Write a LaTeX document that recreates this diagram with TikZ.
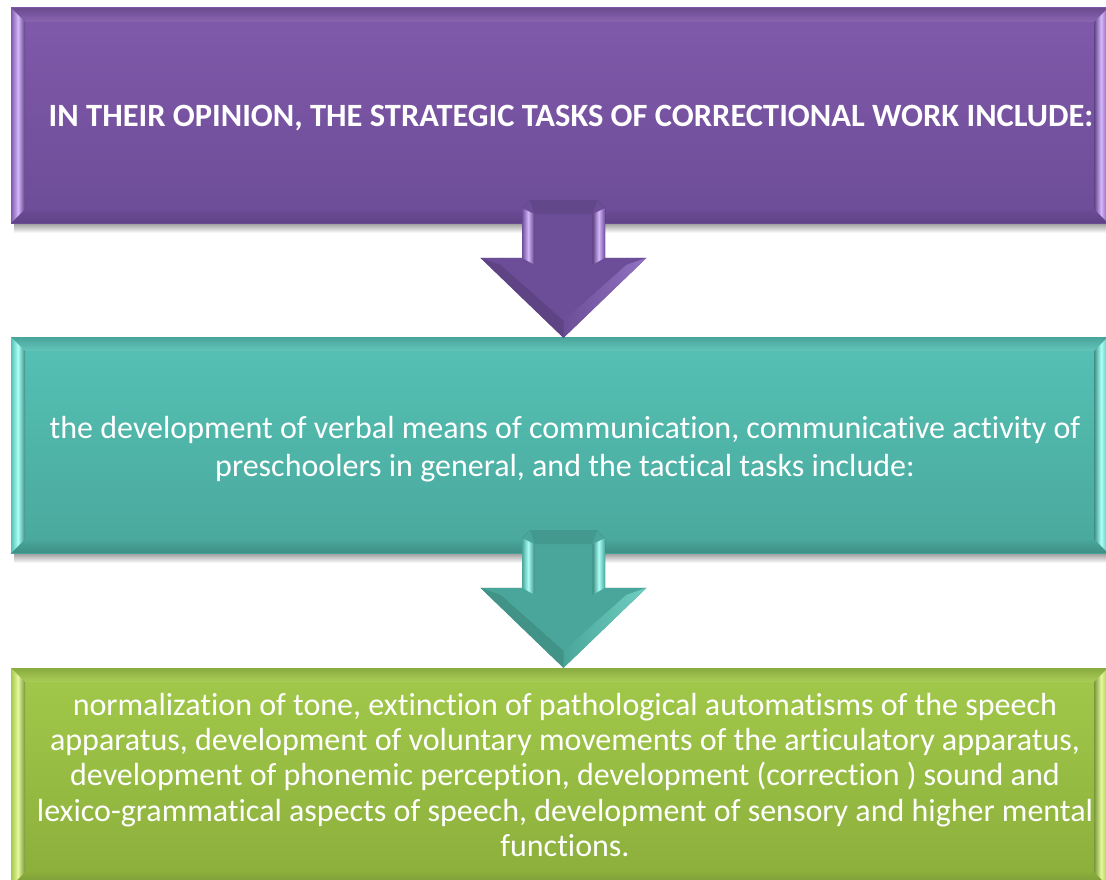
\documentclass[tikz,border=0pt]{standalone}
\usepackage{fontspec}
\setmainfont{Carlito}[Ligatures=NoCommon]
\usetikzlibrary{calc,backgrounds}

% panel colours: face top / face bottom / light bevel / dark bevel
\definecolor{puTop}{HTML}{8059AB}
\definecolor{puBot}{HTML}{6D4D97}
\definecolor{puLight}{HTML}{D4B6FC}
\definecolor{puDark}{HTML}{5E4285}
\definecolor{teTop}{HTML}{55C1B5}
\definecolor{teBot}{HTML}{4AA89C}
\definecolor{teLight}{HTML}{AAFFF5}
\definecolor{teDark}{HTML}{3E8F85}
\definecolor{grTop}{HTML}{A2C94A}
\definecolor{grBot}{HTML}{8BAE3B}
\definecolor{grLight}{HTML}{E4F79C}
\definecolor{grDark}{HTML}{779739}
% arrow colours
\definecolor{puArrow}{HTML}{6C4D97}
\definecolor{puArrowLit}{HTML}{9273C4}
\definecolor{teArrow}{HTML}{4AA69A}
\definecolor{teArrowLit}{HTML}{6FCFC2}

\tikzset{
  boxtext/.style={text=white, align=center, inner sep=0pt},
}

% bevelled panel: x1, y1, x2, y2, colour prefix
\newcommand\panel[5]{%
  \shade[top color=black!40, bottom color=white] (#1+3,#4) rectangle (#3,#4+10);
  \shade[top color=#5Top, bottom color=#5Bot] (#1,#2) rectangle (#3,#4);
  % top bevel
  \shade[top color=#5Top!85!black, bottom color=#5Top!92!white]
    (#1,#2) -- (#3,#2) -- (#3-14,#2+14) -- (#1+14,#2+14) -- cycle;
  % bottom bevel
  \shade[top color=#5Bot, bottom color=#5Dark]
    (#1,#4) -- (#3,#4) -- (#3-14,#4-14) -- (#1+14,#4-14) -- cycle;
  % left bevel
  \shade[left color=#5Top, right color=#5Dark, middle color=#5Light]
    (#1,#2) -- (#1+14,#2+14) -- (#1+14,#4-14) -- (#1,#4) -- cycle;
  % right bevel
  \shade[left color=#5Dark, right color=#5Top, middle color=#5Light]
    (#3,#2) -- (#3-14,#2+14) -- (#3-14,#4-14) -- (#3,#4) -- cycle;
}

% bevelled block arrow from shaft top #1 to tip #2, colour prefix #3
\newcommand\blockarrow[3]{%
  % soft shadow
  \foreach \s/\o in {6/0.08,4/0.10,2/0.12}{
    \fill[black, opacity=\o, shift={(\s*0.6,\s)}]
      ($(#1)+(-33.5,0)$) -- ($(#1)+(33.5,0)$) -- ($(#1)+(41.5,8)$) --
      ($(#2)+(41.5,-80)$) -- ($(#2)+(83,-80)$) -- (#2) --
      ($(#2)+(-83,-80)$) -- ($(#2)+(-41.5,-80)$) -- ($(#1)+(-41.5,8)$) -- cycle;
  }
  % body
  \fill[#3Arrow]
    ($(#1)+(-33.5,0)$) -- ($(#1)+(33.5,0)$) -- ($(#1)+(41.5,8)$) --
    ($(#2)+(41.5,-80)$) -- ($(#2)+(83,-80)$) -- (#2) --
    ($(#2)+(-83,-80)$) -- ($(#2)+(-41.5,-80)$) -- ($(#1)+(-41.5,8)$) -- cycle;
  % lit bevel along the right slope of the head
  \shade[left color=#3Arrow, right color=#3ArrowLit]
    ($(#2)+(83,-80)$) -- (#2) -- ($(#2)+(0,-17)$) -- ($(#2)+(63,-73)$) -- cycle;
  % darker bevel along the left slope of the head
  \fill[#3Arrow!88!black]
    ($(#2)+(-83,-80)$) -- (#2) -- ($(#2)+(0,-17)$) -- ($(#2)+(-63,-73)$) -- cycle;
  % lit bevels of the shaft
  \shade[left color=#3Arrow, right color=#3Arrow!85!black, middle color=#3Light]
    ($(#1)+(-41.5,8)$) -- ($(#1)+(-29,14)$) -- ($(#2)+(-29,-73)$) -- ($(#2)+(-41.5,-80)$) -- cycle;
  \shade[left color=#3Arrow!85!black, right color=#3Arrow, middle color=#3Light]
    ($(#1)+(41.5,8)$) -- ($(#1)+(29,14)$) -- ($(#2)+(29,-73)$) -- ($(#2)+(41.5,-80)$) -- cycle;
  \fill[#3Arrow!92!black]
    ($(#1)+(-33.5,0)$) -- ($(#1)+(33.5,0)$) -- ($(#1)+(29,14)$) -- ($(#1)+(-29,14)$) -- cycle;
}

\begin{document}
\begin{tikzpicture}[x=1pt, y=-1pt]
  \clip (0,0) rectangle (1106,880);

  % text boxes
  \node[boxtext, minimum width=1097pt, minimum height=215pt,
        font=\bfseries\fontsize{32.5}{38}\selectfont] (b1) at (571,118.5)
    {IN THEIR OPINION, THE STRATEGIC TASKS OF CORRECTIONAL WORK INCLUDE:};
  \node[boxtext, minimum width=1097pt, minimum height=216pt,
        font=\fontsize{32}{38}\selectfont] (b2) at (565,449)
    {the development of verbal means of communication, communicative activity of\\
     preschoolers in general, and the tactical tasks include:};
  \node[boxtext, minimum width=1097pt, minimum height=216pt,
        font=\fontsize{32}{35.2}\selectfont] (b3) at (565,775)
    {normalization of tone, extinction of pathological automatisms of the speech\\
     apparatus, development of voluntary movements of the articulatory apparatus,\\
     development of phonemic perception, development (correction ) sound and\\
     lexico-grammatical aspects of speech, development of sensory and higher mental\\
     functions.};

  \begin{scope}[on background layer]
    \fill[white] (0,0) rectangle (1106,880);
    \panel{11}{8}{1108}{223}{pu}
    \panel{11}{337}{1108}{553}{te}
    \panel{11}{668}{1108}{886}{gr}
  \end{scope}

  % connectors between the boxes
  \coordinate (a1top) at ($(b1.south)+(-7.5,-26)$);
  \coordinate (a1tip) at ($(b2.north)+(-1.5,-3)$);
  \coordinate (a2top) at ($(b2.south)+(-1.5,-27)$);
  \coordinate (a2tip) at ($(b3.north)+(-1.5,1)$);
  \blockarrow{a1top}{a1tip}{pu}
  \blockarrow{a2top}{a2tip}{te}
\end{tikzpicture}
\end{document}
